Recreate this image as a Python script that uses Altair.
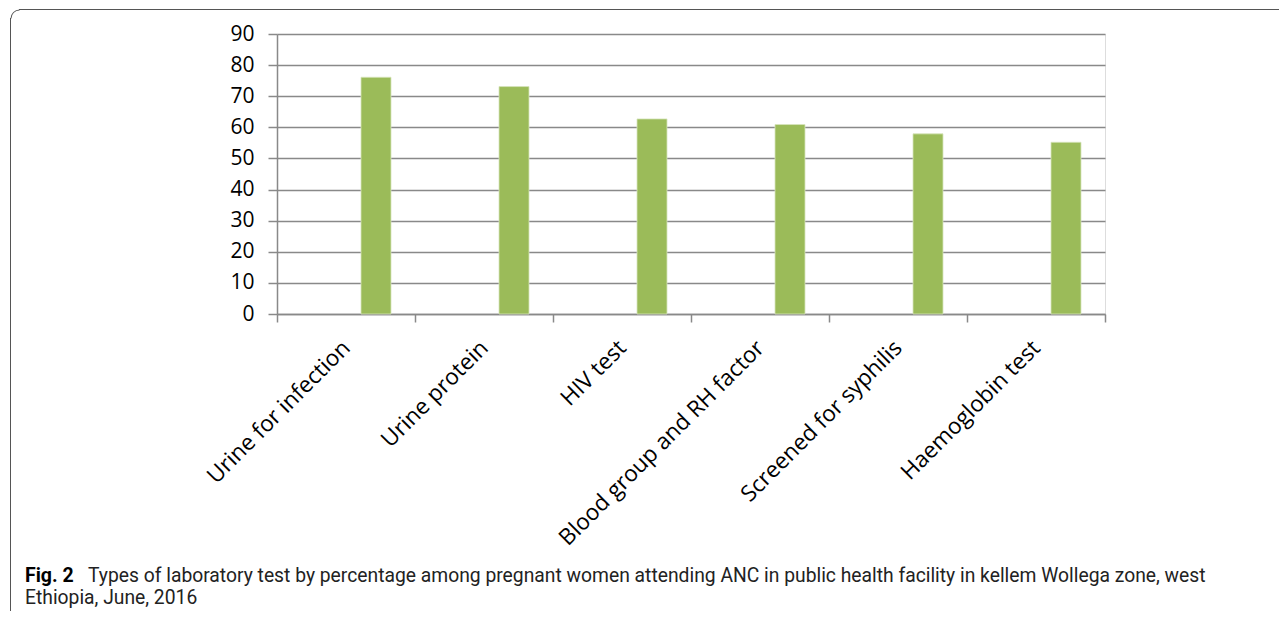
import altair as alt
import pandas as pd

categories = ["Urine for infection", "Urine protein", "HIV test",
              "Blood group and RH factor", "Screened for syphilis", "Haemoglobin test"]
values = [76.1, 73.1, 62.7, 60.9, 57.9, 55.2]
series_slots = ["s1", "s2", "s3"]
series = ["s3"] * len(categories)
y_ticks = [0, 10, 20, 30, 40, 50, 60, 70, 80, 90]

caption_bold = "Fig. 2"
caption_line1 = "Types of laboratory test by percentage among pregnant women attending ANC in public health facility in kellem Wollega zone, west"
caption_line2 = "Ethiopia, June, 2016"

df = pd.DataFrame({"test": categories, "pct": values, "series": series})

GRAY = "#898989"
BORDER = "#555555"
FONT = "Open Sans"
CAP_FONT = "Roboto"

bars = alt.Chart(df).mark_bar(color="#9BBB59", stroke="#d7e4bd", strokeWidth=0.8).encode(
    x=alt.X("test:N", sort=categories,
            scale=alt.Scale(paddingInner=0, paddingOuter=0),
            axis=alt.Axis(title=None, labelAngle=-45, labelAlign="right", labelBaseline="middle",
                          labelFontSize=22.5, labelFont=FONT, labelColor="#000000",
                          labelPadding=22, tickSize=8, tickColor=GRAY, tickWidth=1.5,
                          domainColor=GRAY, domainWidth=1.5, tickBand="extent", grid=False,
                          labelLimit=400)),
    xOffset=alt.XOffset("series:N", scale=alt.Scale(domain=series_slots, paddingInner=0, paddingOuter=0.8)),
    y=alt.Y("pct:Q", scale=alt.Scale(domain=[0, 90], nice=False),
            axis=alt.Axis(title=None, values=y_ticks, labelFontSize=21, labelFont=FONT,
                          labelColor="#000000", labelPadding=14, tickSize=9, tickColor=GRAY,
                          tickWidth=1.5, domainColor=GRAY, domainWidth=1.5,
                          gridColor=GRAY, gridWidth=1.5, grid=True)),
)

one = alt.Data(values=[{"k": 1}])

# frame around the figure: top edge, left edge and a rounded top-left corner
top_edge = alt.Chart(one).mark_rule(color=BORDER, strokeWidth=1).encode(
    x=alt.value(-258), x2=alt.value(1100), y=alt.value(-24.5))
left_edge = alt.Chart(one).mark_rule(color=BORDER, strokeWidth=1).encode(
    x=alt.value(-266.5), y=alt.value(-16), y2=alt.value(700))
corner = alt.Chart(one).mark_arc(color=BORDER, radius=9, radius2=8, theta=4.7124, theta2=6.2832).encode(
    x=alt.value(-257.5), y=alt.value(-15.5))

cap_bold = alt.Chart(one).mark_text(text=caption_bold, font=CAP_FONT, fontSize=19.5, fontWeight="bold",
                                    align="left", baseline="alphabetic", color="#000000").encode(
    x=alt.value(-252), y=alt.value(548))
cap1 = alt.Chart(one).mark_text(text=caption_line1, font=CAP_FONT, fontSize=19.3,
                                align="left", baseline="alphabetic", color="#222222").encode(
    x=alt.value(-189), y=alt.value(548))
cap2 = alt.Chart(one).mark_text(text=caption_line2, font=CAP_FONT, fontSize=19.3,
                                align="left", baseline="alphabetic", color="#222222").encode(
    x=alt.value(-252), y=alt.value(570))

chart = alt.layer(top_edge, left_edge, corner, bars, cap_bold, cap1, cap2).properties(
    width=828, height=280,
    autosize=alt.AutoSizeParams(type="none"),
    padding={"left": 269, "top": 26, "right": 174, "bottom": 297},
).configure_view(stroke=None).configure(background="white")

chart.save("out.html", embed_options={"renderer": "svg", "actions": False})
